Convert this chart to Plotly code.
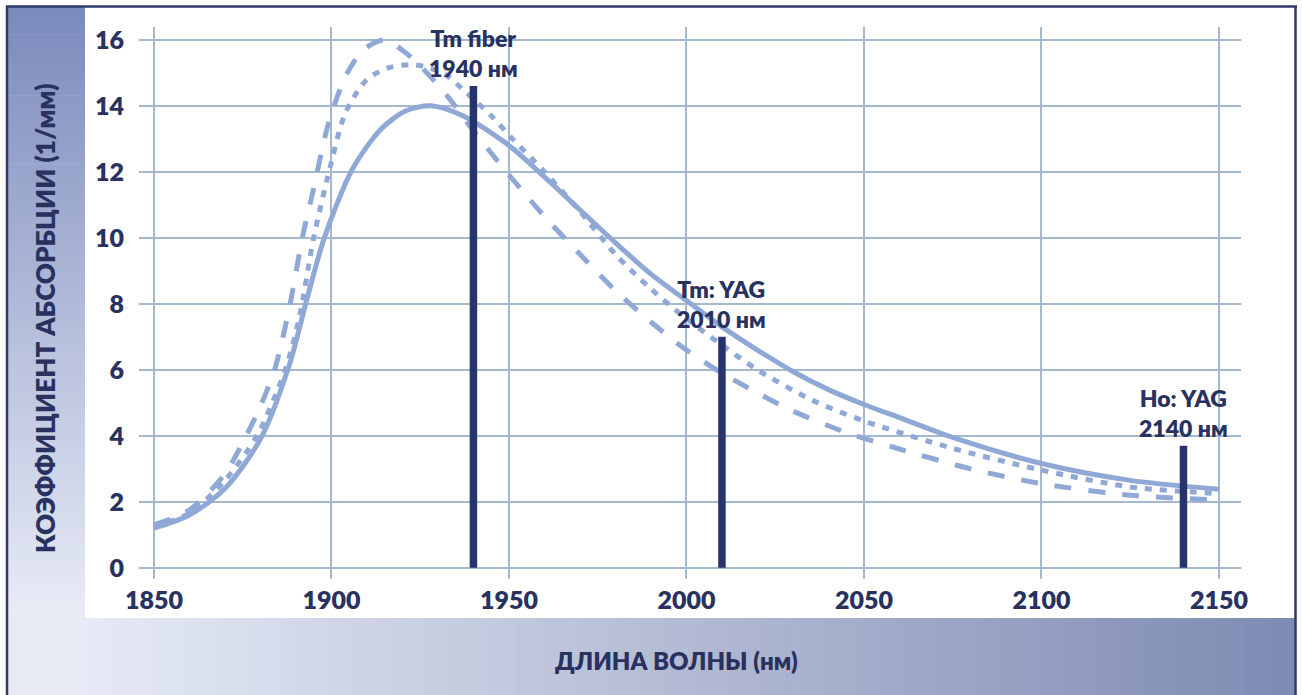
import plotly.graph_objects as go

# ---------------- data ----------------
wl_solid = [1850, 1860, 1870, 1880, 1888, 1893, 1898, 1906, 1914, 1921, 1928, 1937, 1950,
            1960, 1970, 1980, 1990, 2000, 2010, 2020, 2030, 2040, 2050, 2060, 2075, 2100,
            2125, 2150]
abs_solid = [1.2, 1.6, 2.4, 3.9, 6.1, 8.1, 10.0, 12.1, 13.3, 13.85, 14.0, 13.7, 12.8,
             11.85, 10.85, 9.85, 8.9, 8.1, 7.3, 6.6, 5.95, 5.4, 4.95, 4.55, 3.95, 3.16,
             2.65, 2.38]

wl_dot = [1850, 1860, 1870, 1879, 1887, 1891, 1895, 1900, 1904, 1910, 1916, 1922, 1926,
          1932, 1938, 1945, 1951, 1960, 1970, 1980, 1990, 2000, 2010, 2020, 2035, 2050,
          2075, 2100, 2125, 2150]
abs_dot = [1.25, 1.65, 2.65, 4.0, 6.0, 7.6, 10.0, 12.3, 13.8, 14.8, 15.15, 15.25, 15.2,
           14.95, 14.4, 13.7, 13.0, 12.0, 10.8, 9.5, 8.45, 7.55, 6.75, 6.0, 5.1, 4.45,
           3.62, 2.96, 2.45, 2.25]

wl_dash = [1850, 1860, 1870, 1876, 1880, 1884, 1888, 1892, 1895, 1899, 1904, 1909, 1915,
           1921, 1926, 1933, 1940, 1947, 1954, 1960, 1970, 1980, 1990, 2000, 2010, 2020,
           2030, 2045, 2060, 2080, 2100, 2125, 2150]
abs_dash = [1.3, 1.75, 2.85, 4.0, 4.9, 6.0, 7.8, 10.1, 11.5, 13.4, 14.9, 15.7, 16.0,
            15.6, 15.1, 14.25, 13.25, 12.3, 11.4, 10.65, 9.5, 8.4, 7.45, 6.6, 5.9, 5.3,
            4.75, 4.1, 3.6, 3.0, 2.55, 2.2, 2.05]

laser_wl = [1940, 2010, 2140]
laser_height = [14.6, 7.0, 3.7]
laser_label = ["Tm fiber<br>1940 нм", "Tm: YAG<br>2010 нм", "Ho: YAG<br>2140 нм"]

x_ticks = [1850, 1900, 1950, 2000, 2050, 2100, 2150]
y_ticks = [0, 2, 4, 6, 8, 10, 12, 14, 16]

x_title = "ДЛИНА ВОЛНЫ (нм)"
y_title = "КОЭФФИЦИЕНТ АБСОРБЦИИ (1/мм)"

# ---------------- style ----------------
W, H = 1302, 695
L, R, T, B = 139, 61, 27, 116
PW, PH = W - L - R, H - T - B

CURVE = "#8fa8d5"
NAVY = "#26336c"
TEXT = "#29325f"
GRID = "#a6b8cd"
FONT = "Lato"
WEIGHT = 800


def px(x):
    return (x - L) / PW


def py(y):
    return (H - B - y) / PH


def lerp(c1, c2, t):
    return "rgb(%d,%d,%d)" % tuple(round(a + (b - a) * t) for a, b in zip(c1, c2))


fig = go.Figure()

curve_specs = [
    (wl_dash, abs_dash, "17px,17px"),
    (wl_dot, abs_dot, "7px,8px"),
    (wl_solid, abs_solid, "solid"),
]
for xs, ys, dash in curve_specs:
    fig.add_trace(go.Scatter(
        x=xs, y=ys, mode="lines",
        line=dict(color=CURVE, width=5, dash=dash, shape="spline", smoothing=0.8),
        hoverinfo="skip", showlegend=False))

# laser lines (vertical bars), built from arrays
bx, by = [], []
for w, h in zip(laser_wl, laser_height):
    bx += [w, w, None]
    by += [0, h, None]
fig.add_trace(go.Scatter(x=bx, y=by, mode="lines",
                         line=dict(color=NAVY, width=7.5),
                         hoverinfo="skip", showlegend=False))

annotations = []
for w, h, lab in zip(laser_wl, laser_height, laser_label):
    annotations.append(dict(
        x=w, y=h, xref="x", yref="y", text=lab, showarrow=False,
        xanchor="center", yanchor="bottom", yshift=2,
        font=dict(family=FONT, size=23, color=TEXT, weight=WEIGHT)))

annotations.append(dict(
    x=px(676), y=py(660), xref="paper", yref="paper", text=x_title, showarrow=False,
    xanchor="center", yanchor="middle",
    font=dict(family=FONT, size=24, color=TEXT, weight=WEIGHT)))
annotations.append(dict(
    x=px(45), y=py(318), xref="paper", yref="paper", text=y_title, showarrow=False,
    textangle=-90, xanchor="center", yanchor="middle",
    font=dict(family=FONT, size=26, color=TEXT, weight=WEIGHT)))

# background panels
shapes = []
n = 90
top_c, bot_c = (122, 138, 188), (233, 236, 246)
y0, y1 = 7.0, 618.0
for i in range(n):
    ya = y0 + (y1 - y0) * i / n
    yb = y0 + (y1 - y0) * (i + 1) / n + 0.6
    shapes.append(dict(type="rect", xref="paper", yref="paper",
                       x0=px(7), x1=px(85), y0=py(yb), y1=py(ya),
                       fillcolor=lerp(top_c, bot_c, (i + 0.5) / n),
                       line=dict(width=0), layer="below"))
left_c, right_c = (230, 234, 245), (126, 138, 178)
x0, x1 = 85.0, 1295.0
for i in range(n):
    xa = x0 + (x1 - x0) * i / n
    xb = x0 + (x1 - x0) * (i + 1) / n + 0.6
    shapes.append(dict(type="rect", xref="paper", yref="paper",
                       x0=px(xa), x1=px(xb), y0=py(H), y1=py(618),
                       fillcolor=lerp(left_c, right_c, (i + 0.5) / n),
                       line=dict(width=0), layer="below"))
shapes.append(dict(type="rect", xref="paper", yref="paper",
                   x0=px(7), x1=px(85.5), y0=py(H), y1=py(617.5),
                   fillcolor="rgb(230,234,245)", line=dict(width=0), layer="below"))
border = dict(color="#2c3a6c", width=2.5)
shapes.append(dict(type="line", xref="paper", yref="paper",
                   x0=px(6), x1=px(1297), y0=py(6.5), y1=py(6.5), line=border))
shapes.append(dict(type="line", xref="paper", yref="paper",
                   x0=px(7), x1=px(7), y0=py(6), y1=py(H), line=border))
shapes.append(dict(type="line", xref="paper", yref="paper",
                   x0=px(1295.5), x1=px(1295.5), y0=py(6), y1=py(H), line=border))

fig.update_layout(
    width=W, height=H,
    margin=dict(l=L, r=R, t=T, b=B, autoexpand=False),
    paper_bgcolor="white", plot_bgcolor="white",
    showlegend=False,
    shapes=shapes, annotations=annotations,
    xaxis=dict(range=[1845.8, 2156.2], tickvals=x_ticks, showgrid=True,
               gridcolor=GRID, gridwidth=2, zeroline=False, showline=False,
               ticks="", ticklabelstandoff=4, automargin=False,
               tickfont=dict(family=FONT, size=25, color=TEXT, weight=WEIGHT),
               fixedrange=True),
    yaxis=dict(range=[-0.34, 16.39], tickvals=y_ticks, showgrid=True,
               gridcolor=GRID, gridwidth=2, zeroline=False, showline=False,
               ticks="", ticklabelstandoff=14, automargin=False,
               tickfont=dict(family=FONT, size=25, color=TEXT, weight=WEIGHT),
               fixedrange=True),
)

fig.write_html(
    "out.html",
    config={"displayModeBar": False},
    post_script="document.body.style.margin='0';document.body.style.overflow='hidden';",
)
